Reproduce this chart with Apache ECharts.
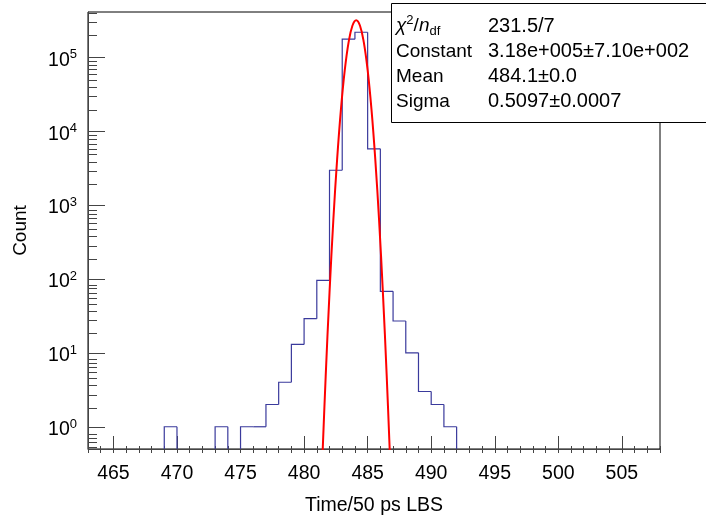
<!DOCTYPE html>
<html>
<head>
<meta charset="utf-8">
<script src="https://cdn.jsdelivr.net/npm/echarts@6/dist/echarts.min.js"></script>
<style>
html,body{margin:0;padding:0;background:#fff;}
#chart{width:706px;height:521px;}
</style>
</head>
<body>
<div id="chart"></div>
<script>
// ---------- data ----------
const binEdges = [463,464,465,466,467,468,469,470,471,472,473,474,475,476,477,478,479,480,481,482,483,484,485,486,487,488,489,490,491,492,493,494,495,496,497,498,499,500,501,502,503,504,505,506,507,508];
const counts = [0,0,0,0,0,0,1,0,0,0,1,0,1,1,2,4,13,29,96,2960,176000,218000,5770,68,27,10,3,2,1,0,0,0,0,0,0,0,0,0,0,0,0,0,0,0,0];
const fitX = [481.4,481.7,482.0,482.3,482.6,482.9,483.2,483.5,483.8,484.1,484.4,484.7,485.0,485.3,485.6,485.9,486.2,486.5,486.8];
const fitY = [0.256,4.87,65.4,622,4187,19910,66900,159100,267400,318000,267400,159100,66900,19910,4187,622,65.4,4.87,0.256];
const xTickLabels = [465,470,475,480,485,490,495,500,505];
const xMinorTicks = [463,464,465,466,467,468,469,470,471,472,473,474,475,476,477,478,479,480,481,482,483,484,485,486,487,488,489,490,491,492,493,494,495,496,497,498,499,500,501,502,503,504,505,506,507,508];
const yTickExponents = [0,1,2,3,4,5];
const yMinorTicks = [0.6,0.7,0.8,0.9,2,3,4,5,6,7,8,9,20,30,40,50,60,70,80,90,200,300,400,500,600,700,800,900,2000,3000,4000,5000,6000,7000,8000,9000,20000,30000,40000,50000,60000,70000,80000,90000,200000,300000,400000];
const statNames = ['Constant','Mean','Sigma'];
const statValues = ['231.5/7','3.18e+005\u00b17.10e+002','484.1\u00b10.0','0.5097\u00b10.0007'];
const xTitle = 'Time/50 ps LBS';
const yTitle = 'Count';

// ---------- layout ----------
const FONT = '"Liberation Sans", Arial, Helvetica, sans-serif';
const X_MIN = 463, X_MAX = 508, Y_MIN = 0.5, Y_MAX = 4.1e5;
const gridRect = {left: 88, top: 12, right: 46, bottom: 68};
const axisColor = '#444';

const histData = counts.map((c, i) => [binEdges[i], binEdges[i + 1], c, i > 0 ? counts[i - 1] : 0]);
const yMajorVals = yTickExponents.map(e => Math.pow(10, e));

const chart = echarts.init(document.getElementById('chart'), null, {renderer: 'canvas'});

const option = {
  animation: false,
  backgroundColor: '#fff',
  grid: [
    Object.assign({show: true, borderColor: '#000', borderWidth: 1, backgroundColor: 'transparent'}, gridRect),
    Object.assign({show: false}, gridRect)
  ],
  xAxis: [
    {
      type: 'value', gridIndex: 0, min: X_MIN, max: X_MAX, position: 'bottom',
      axisLine: {show: true, lineStyle: {color: axisColor, width: 1}},
      axisTick: {show: true, inside: true, length: 13, customValues: xTickLabels, lineStyle: {color: axisColor}},
      axisLabel: {show: true, customValues: xTickLabels, color: '#000', fontSize: 19.5, fontFamily: FONT, margin: 15},
      splitLine: {show: false},
      name: xTitle, nameLocation: 'middle', nameGap: 47,
      nameTextStyle: {color: '#000', fontSize: 19.5, fontFamily: FONT}
    },
    {
      type: 'value', gridIndex: 1, min: X_MIN, max: X_MAX, position: 'bottom',
      axisLine: {show: false},
      axisTick: {show: true, inside: true, length: 7, customValues: xMinorTicks, lineStyle: {color: axisColor}},
      axisLabel: {show: false},
      splitLine: {show: false}
    }
  ],
  yAxis: [
    {
      type: 'log', logBase: 10, gridIndex: 0, min: Y_MIN, max: Y_MAX, position: 'left',
      axisLine: {show: true, lineStyle: {color: axisColor, width: 1}},
      axisTick: {show: true, inside: true, length: 17, customValues: yMajorVals, lineStyle: {color: axisColor}},
      axisLabel: {
        show: true, customValues: yMajorVals, margin: 11, padding: [6, 0, 0, 0],
        formatter: v => '{b|10}{s|' + Math.round(Math.log10(v)) + '}',
        rich: {
          b: {fontSize: 19.5, fontFamily: FONT, color: '#000', lineHeight: 24},
          s: {fontSize: 13, fontFamily: FONT, color: '#000', verticalAlign: 'top', lineHeight: 13}
        }
      },
      splitLine: {show: false},
      name: yTitle, nameLocation: 'middle', nameGap: 58, nameRotate: 90,
      nameTextStyle: {color: '#000', fontSize: 19, fontFamily: FONT}
    },
    {
      type: 'log', logBase: 10, gridIndex: 1, min: Y_MIN, max: Y_MAX, position: 'left',
      axisLine: {show: false},
      axisTick: {show: true, inside: true, length: 9, customValues: yMinorTicks, lineStyle: {color: axisColor}},
      axisLabel: {show: false},
      splitLine: {show: false}
    }
  ],
  series: [
    {
      type: 'custom', xAxisIndex: 0, yAxisIndex: 0, z: 3,
      encode: {x: [0, 1], y: [2, 3]},
      data: histData,
      renderItem: (params, api) => {
        const lo = api.value(0), hi = api.value(1), c = api.value(2), p = api.value(3);
        if (!(c > 0) && !(p > 0)) return null;
        const bottom = params.coordSys.y + params.coordSys.height;
        const yOf = v => v > 0 ? api.coord([lo, v])[1] : bottom;
        const xl = api.coord([lo, 1])[0], xh = api.coord([hi, 1])[0];
        const pts = [[xl, yOf(p)], [xl, yOf(c)]];
        if (c > 0) pts.push([xh, yOf(c)]);
        return {type: 'polyline', shape: {points: pts}, style: {stroke: '#3a3a9c', lineWidth: 1.2, fill: null}};
      }
    },
    {
      type: 'line', xAxisIndex: 0, yAxisIndex: 0, z: 4,
      data: fitX.map((x, i) => [x, fitY[i]]),
      smooth: 0.4, showSymbol: false, symbol: 'none', clip: true,
      lineStyle: {color: '#ff0000', width: 2}
    }
  ],
  graphic: [
    {type: 'rect', z: 100, shape: {x: 391.5, y: 3.5, width: 330, height: 119}, style: {fill: '#fff', stroke: '#000', lineWidth: 1}},
    {type: 'text', z: 101, x: 396, y: 26, style: {
      text: '{i|\u03c7}{s|2}{r|/}{i|n}{d|df}', verticalAlign: 'middle',
      rich: {
        i: {fontSize: 19, fontStyle: 'italic', fontFamily: FONT, fill: '#000', lineHeight: 24},
        r: {fontSize: 19, fontFamily: FONT, fill: '#000', lineHeight: 24},
        s: {fontSize: 13, fontFamily: FONT, fill: '#000', verticalAlign: 'top', lineHeight: 13},
        d: {fontSize: 13, fontFamily: FONT, fill: '#000', verticalAlign: 'bottom', lineHeight: 13}
      }
    }},
    ...statNames.map((n, i) => ({type: 'text', z: 101, x: 396, y: 51.5 + i * 25, style: {text: n, font: '19px ' + FONT, fill: '#000', verticalAlign: 'middle'}})),
    ...statValues.map((v, i) => ({type: 'text', z: 101, x: 488, y: 26 + i * 25.2, style: {text: v, font: '20px ' + FONT, fill: '#000', verticalAlign: 'middle'}}))
  ]
};
chart.setOption(option);
</script>
</body>
</html>
